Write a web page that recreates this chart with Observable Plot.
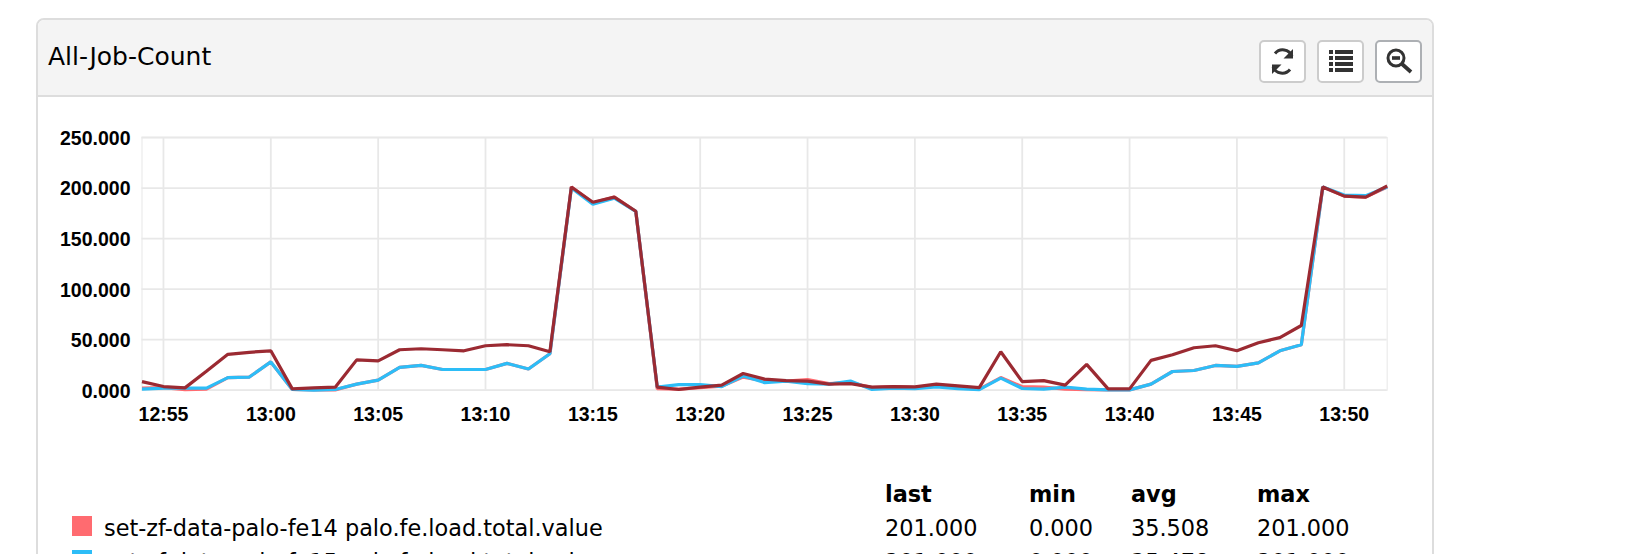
<!DOCTYPE html>
<html><head><meta charset="utf-8">
<script src="https://cdn.jsdelivr.net/npm/d3@7"></script>
<script src="https://cdn.jsdelivr.net/npm/@observablehq/plot@0.6"></script>
<style>
html,body{margin:0;padding:0;background:#fff;overflow:hidden;width:1636px;height:554px}
#page{position:relative;width:1636px;height:554px;overflow:hidden;font-family:"DejaVu Sans",sans-serif;color:#000}
#card{position:absolute;left:36px;top:18px;width:1398px;height:600px;border:2px solid #ddd;border-radius:8px;box-sizing:border-box}
#head{position:absolute;left:0;top:0;right:0;height:75px;background:#f4f4f4;border-bottom:2px solid #ddd;border-radius:6px 6px 0 0}
#title{position:absolute;left:48px;top:41px;font-size:25px;line-height:32px}
.btn{position:absolute;top:40px;width:47px;height:43px;box-sizing:border-box;background:#fff;border:2px solid #ccc;border-radius:5px}
.btn svg{position:absolute;left:0;top:0}
#chart{position:absolute;left:0;top:0}
.t{position:absolute;font-size:22.4px;line-height:24px;white-space:nowrap}
.b{font-weight:bold}
.sw{position:absolute;left:72px;width:20px;height:20px}
</style></head><body>
<div id="page">
  <div id="card"><div id="head"></div></div>
  <div id="title">All-Job-Count</div>
  <div class="btn" style="left:1259px"><svg width="43" height="39" viewBox="0 0 43 39"><path d="M31 14a10 10 0 0 0-17-2.500" fill="none" stroke="#333" stroke-width="3"/><path d="M32 7v9.500h-9.500z" fill="#333"/><path d="M12 25a10 10 0 0 0 17 2.500" fill="none" stroke="#333" stroke-width="3"/><path d="M11 32v-9.500h9.500z" fill="#333"/></svg></div>
  <div class="btn" style="left:1317px"><svg width="43" height="39" viewBox="0 0 43 39" fill="#333"><rect x="10" y="8" width="4" height="4"/><rect x="16" y="8" width="18" height="4"/><rect x="10" y="14" width="4" height="4"/><rect x="16" y="14" width="18" height="4"/><rect x="10" y="20" width="4" height="4"/><rect x="16" y="20" width="18" height="4"/><rect x="10" y="26" width="4" height="4"/><rect x="16" y="26" width="18" height="4"/></svg></div>
  <div class="btn" style="left:1375px;border-color:#adb0b4"><svg width="43" height="39" viewBox="0 0 43 39"><circle cx="19" cy="16" r="8" fill="none" stroke="#333" stroke-width="3"/><rect x="15" y="14.200" width="8" height="3.600" fill="#333"/><path d="M25 22l9 8" stroke="#333" stroke-width="3.800" fill="none"/></svg></div>
  <div id="chart"></div>
  <div id="legend"></div>
</div>
<script>
const minutes = ["12:54","12:55","12:56","12:57","12:58","12:59","13:00","13:01","13:02","13:03","13:04","13:05","13:06","13:07","13:08","13:09","13:10","13:11","13:12","13:13","13:14","13:15","13:16","13:17","13:18","13:19","13:20","13:21","13:22","13:23","13:24","13:25","13:26","13:27","13:28","13:29","13:30","13:31","13:32","13:33","13:34","13:35","13:36","13:37","13:38","13:39","13:40","13:41","13:42","13:43","13:44","13:45","13:46","13:47","13:48","13:49","13:50","13:51","13:52"];
const fe14 = [2,2.5,0.5,1,12.5,13,28,0.7,0.2,0.3,6,10,22.5,24.5,20.5,20.5,20.5,26.5,21,36,201,185.5,191,177,1.5,1,2.5,4,13,9,9,10.5,6.5,7.5,2.5,3.5,2.5,4.5,2.5,1,12.5,3.5,3,1,0.5,0.3,0.3,6,18.5,19.5,24.5,23.5,27,39,45,201,192,191,201];
const fe15 = [1,2,2,2,12.5,13,28,0.7,0,0.7,6,10,22.5,24.5,20.5,20.5,20.5,26.5,21,36,200,184,190,177,3,5.5,5.5,3.5,14,7.5,9,6.5,6,9,0.7,2,1.5,3.3,1.5,0.5,12,1.7,1,3,1,0.3,0.3,6,18.5,19.5,24.5,23.5,27,39,45,201,193,192.5,201];
const fe16 = [8.5,3.6,2.3,18.7,35.5,37.5,39,1.3,2.3,3,30,29,40,41,40,39,44,45,44,38,201,186,191,177,3,0.7,3,5,16.5,11,9.5,9,6,6.5,3,3.5,3.3,6,4.3,2.5,38,8.5,9.5,5,25.5,1.3,1.3,29.5,35,42,44,39,47,52,64,201,192,191,202];
const seriesNames = ["set-zf-data-palo-fe14 palo.fe.load.total.value","set-zf-data-palo-fe15 palo.fe.load.total.value","set-zf-data-palo-fe16 palo.fe.load.total.value"];
const seriesColors = ["#ff6b70","#2dbdf7","#9b2a32"];
const xTicks = ["12:55","13:00","13:05","13:10","13:15","13:20","13:25","13:30","13:35","13:40","13:45","13:50"];
const yTicks = [0,50,100,150,200,250];
const legendHead = ["last","min","avg","max"];
const legendRow1 = ["201.000","0.000","35.508","201.000"];
const legendRow2 = ["201.000","0.000","35.478","201.000"];

const toTime = s => new Date(`2016-01-01T${s}:00Z`);
const fmt = d3.utcFormat("%H:%M");
const table = (vals, k) => vals.map((v, i) => ({t: toTime(minutes[i]), v, k}));
const rows = [...table(fe14, seriesNames[0]), ...table(fe15, seriesNames[1]), ...table(fe16, seriesNames[2])];

const plot = Plot.plot({
  width: 1636, height: 460,
  marginLeft: 141.5, marginRight: 249.3, marginTop: 137, marginBottom: 70.3,
  style: {background: "transparent", fontFamily: "'Liberation Sans',sans-serif", fontSize: "19.5px", fontWeight: "bold", color: "#000"},
  x: {type: "utc", domain: [toTime(minutes[0]), toTime(minutes[minutes.length - 1])]},
  y: {domain: [0, 250]},
  color: {domain: seriesNames, range: seriesColors},
  marks: [
    Plot.frame({stroke: "#ececec", strokeWidth: 1.2}),
    Plot.ruleX(xTicks.map(toTime), {stroke: "#e8e8e8", strokeWidth: 1.8}),
    Plot.ruleY(yTicks, {stroke: "#e8e8e8", strokeWidth: 1.8}),
    Plot.axisX(xTicks.map(toTime), {tickSize: 0, tickPadding: 17, label: null, tickFormat: fmt, fill: "#000"}),
    Plot.axisY(yTicks, {tickSize: 0, tickPadding: 11.5, dy: 1.2, label: null, tickFormat: d3.format(".3f"), fill: "#000"}),
    Plot.line(rows, {x: "t", y: "v", z: "k", stroke: "k", strokeWidth: 3.2, strokeOpacity: 1, strokeLinejoin: "miter", strokeLinecap: "butt"})
  ]
});
document.getElementById("chart").append(plot);

const columnLeft = [885, 1029, 1131, 1257];
const legend = document.getElementById("legend");
const addText = (text, x, baseline, bold) => {
  const d = document.createElement("div");
  d.className = "t" + (bold ? " b" : "");
  d.textContent = text;
  d.style.left = x + "px";
  d.style.top = (baseline - 19.8) + "px";
  legend.append(d);
};
legendHead.forEach((s, i) => addText(s, columnLeft[i], 501.5, true));
[legendRow1, legendRow2].forEach((row, r) => {
  const baseline = 535.7 + 34.5 * r;
  const sw = document.createElement("div");
  sw.className = "sw";
  sw.style.top = (516 + 34 * r) + "px";
  sw.style.background = seriesColors[r];
  legend.append(sw);
  addText(seriesNames[r], 104, baseline, false);
  row.forEach((s, i) => addText(s, columnLeft[i], baseline, false));
});
</script>
</body></html>
